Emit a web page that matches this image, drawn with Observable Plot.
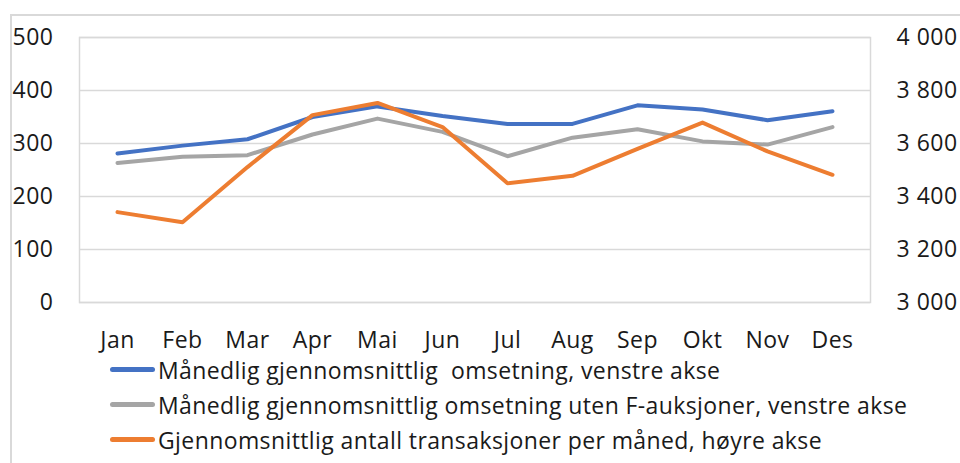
<!DOCTYPE html>
<html>
<head>
<meta charset="utf-8">
<script src="https://cdn.jsdelivr.net/npm/d3@7"></script>
<script src="https://cdn.jsdelivr.net/npm/@observablehq/plot@0.6"></script>
<style>
  html, body { margin: 0; padding: 0; background: #fff; }
  body { width: 960px; height: 463px; position: relative; overflow: hidden; font-family: "Open Sans", "Noto Sans", sans-serif; color: #1a1a1a; }
  #frame { position: absolute; left: 10px; top: 14px; width: 980px; height: 480px; border-left: 2px solid #d9d9d9; border-top: 2px solid #d9d9d9; box-sizing: border-box; }
  #chart { position: absolute; left: 0; top: 0; }
  #chart svg text { letter-spacing: 0.5px; }
  #legend { position: absolute; left: 110px; top: 352px; font-size: 23px; letter-spacing: 0.4px; }
  .row { display: flex; align-items: center; height: 35px; white-space: pre; }
  .sw { width: 45px; height: 5px; border-radius: 3px; margin-right: 3px; }
</style>
</head>
<body>
<div id="frame"></div>
<div id="chart"></div>
<div id="legend"></div>
<script>
const months = ["Jan","Feb","Mar","Apr","Mai","Jun","Jul","Aug","Sep","Okt","Nov","Des"];
const omsetning = [281, 296, 308, 350, 370, 352, 337, 337, 372, 364, 344, 361];
const omsetningUtenF = [263, 275, 278, 317, 347, 322, 276, 311, 327, 304, 298, 331];
const transaksjoner = [3341, 3303, 3511, 3707, 3753, 3662, 3450, 3478, 3580, 3679, 3570, 3482];
const leftTicks = [0, 100, 200, 300, 400, 500];
const seriesNames = [
  "Månedlig gjennomsnittlig  omsetning, venstre akse",
  "Månedlig gjennomsnittlig omsetning uten F-auksjoner, venstre akse",
  "Gjennomsnittlig antall transaksjoner per måned, høyre akse"
];
const colors = ["#4472C4", "#A5A5A5", "#ED7D31"];

// right axis 3000..4000 mapped onto left 0..500
const toLeft = v => (v - 3000) / 2;
const fmtRight = d => d3.format(",")(3000 + d * 2).replace(/,/g, " ");

const rows = [];
months.forEach((m, i) => {
  rows.push({month: m, value: omsetning[i], series: seriesNames[0]});
  rows.push({month: m, value: omsetningUtenF[i], series: seriesNames[1]});
  rows.push({month: m, value: toLeft(transaksjoner[i]), series: seriesNames[2]});
});

const chart = Plot.plot({
  width: 960,
  height: 358,
  marginLeft: 79,
  marginRight: 90,
  marginTop: 37,
  marginBottom: 56,
  style: {fontFamily: "'Open Sans', 'Noto Sans', sans-serif", fontSize: "23px", color: "#1a1a1a", background: "transparent"},
  x: {type: "point", domain: months, padding: 0.5},
  y: {domain: [0, 500]},
  color: {domain: seriesNames, range: colors},
  marks: [
    Plot.gridY(leftTicks, {stroke: "#d9d9d9", strokeOpacity: 1, strokeWidth: 1.5}),
    Plot.frame({stroke: "#d9d9d9", strokeWidth: 1.5}),
    Plot.axisX({tickSize: 0, tickPadding: 29, label: null, fontSize: 23}),
    Plot.axisY(leftTicks, {anchor: "left", tickSize: 0, tickPadding: 26, label: null, fontSize: 23}),
    Plot.axisY(leftTicks, {anchor: "right", tickSize: 0, tickPadding: 26, label: null, fontSize: 23, tickFormat: fmtRight, textAnchor: "start"}),
    Plot.line(rows, {x: "month", y: "value", z: "series", stroke: "series", strokeWidth: 4, strokeLinejoin: "round", strokeLinecap: "round"})
  ]
});
document.getElementById("chart").appendChild(chart);

const legend = document.getElementById("legend");
seriesNames.forEach((name, i) => {
  const row = document.createElement("div");
  row.className = "row";
  const sw = document.createElement("div");
  sw.className = "sw";
  sw.style.background = colors[i];
  const t = document.createElement("span");
  t.textContent = name;
  row.appendChild(sw);
  row.appendChild(t);
  legend.appendChild(row);
});
</script>
</body>
</html>
